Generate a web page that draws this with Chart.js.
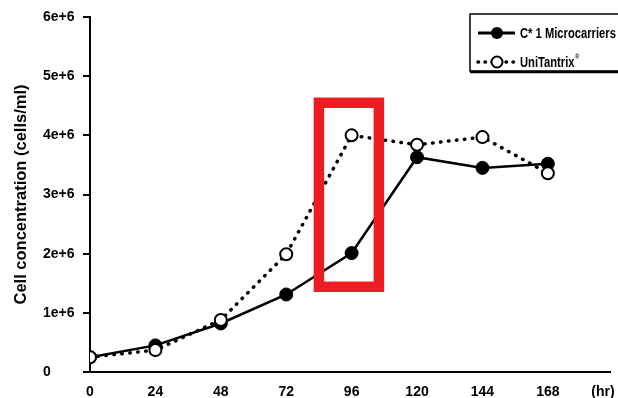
<!DOCTYPE html>
<html>
<head>
<meta charset="utf-8">
<script src="https://cdn.jsdelivr.net/npm/chart.js@4.4.1/dist/chart.umd.min.js"></script>
<style>
  html, body { margin: 0; padding: 0; background: #fff; }
  canvas { display: block; }
</style>
</head>
<body>
<canvas id="myChart" width="618" height="398"></canvas>
<script>
const hours = [0, 24, 48, 72, 96, 120, 144, 168];
const microcarriers = [0.25e6, 0.45e6, 0.82e6, 1.31e6, 2.01e6, 3.63e6, 3.45e6, 3.52e6]; // filled circles
const uniTantrix = [0.25e6, 0.37e6, 0.88e6, 1.99e6, 4.0e6, 3.84e6, 3.97e6, 3.36e6];    // open circles
const yTickValues = [0, 1e6, 2e6, 3e6, 4e6, 5e6, 6e6];
const seriesNames = ['C* 1 Microcarriers', 'UniTantrix'];

// red box drawn around the 96 hr readings, in data units
const highlight = { x0: 84, x1: 106, y0: 1.44e6, y1: 4.55e6 };

const fontFamily = '"Liberation Sans", Arial, sans-serif';

const toPoints = (vals) => hours.map((h, i) => ({ x: h, y: vals[i] }));

const highlightBox = {
  id: 'highlightBox',
  afterDatasetsDraw(chart) {
    const { ctx, scales: { x, y } } = chart;
    const left = x.getPixelForValue(highlight.x0);
    const right = x.getPixelForValue(highlight.x1);
    const top = y.getPixelForValue(highlight.y1);
    const bottom = y.getPixelForValue(highlight.y0);
    ctx.save();
    ctx.strokeStyle = '#ED1C24';
    ctx.lineWidth = 10.5;
    ctx.strokeRect(left, top, right - left, bottom - top);
    ctx.restore();
  }
};

// "(hr)" unit sits on the tick-label row, right of the last tick
const unitLabel = {
  id: 'unitLabel',
  afterDraw(chart) {
    const { ctx, scales: { x } } = chart;
    ctx.save();
    ctx.font = 'bold 14px ' + fontFamily;
    ctx.fillStyle = '#000';
    ctx.textAlign = 'center';
    ctx.textBaseline = 'middle';
    ctx.fillText('(hr)', 603, x.top + 20);
    ctx.restore();
  }
};

const boxLegend = {
  id: 'boxLegend',
  afterDraw(chart) {
    const ctx = chart.ctx;
    const bx = 470, by = 14, bw = 160, bh = 57;
    ctx.save();
    ctx.fillStyle = '#fff';
    ctx.fillRect(bx, by, bw, bh);
    ctx.strokeStyle = '#000';
    ctx.lineWidth = 1.5;
    ctx.strokeRect(bx, by, bw, bh);
    ctx.lineWidth = 2.5;
    ctx.beginPath();
    ctx.moveTo(bx, by + bh + 1);
    ctx.lineTo(bx + bw, by + bh + 1);
    ctx.stroke();

    const sx0 = 478, sx1 = 515, cx = 497;
    // row 1: solid line + filled circle
    let ry = 33;
    ctx.lineWidth = 3;
    ctx.beginPath();
    ctx.moveTo(sx0, ry);
    ctx.lineTo(sx1, ry);
    ctx.stroke();
    ctx.fillStyle = '#000';
    ctx.beginPath();
    ctx.arc(cx, ry, 6, 0, Math.PI * 2);
    ctx.fill();

    // row 2: dotted line + open circle
    ry = 62;
    ctx.lineWidth = 3.5;
    ctx.lineCap = 'round';
    ctx.setLineDash([0.5, 6.5]);
    ctx.beginPath();
    ctx.moveTo(sx0, ry);
    ctx.lineTo(sx1, ry);
    ctx.stroke();
    ctx.setLineDash([]);
    ctx.fillStyle = '#fff';
    ctx.lineWidth = 2;
    ctx.beginPath();
    ctx.arc(cx, ry, 5.5, 0, Math.PI * 2);
    ctx.fill();
    ctx.stroke();

    // condensed bold text: squeeze the sans font horizontally
    ctx.fillStyle = '#000';
    ctx.textAlign = 'left';
    ctx.textBaseline = 'middle';
    ctx.translate(520, 0);
    ctx.scale(0.8, 1);
    ctx.font = 'bold 14px ' + fontFamily;
    ctx.fillText(seriesNames[0], 0, 34);
    ctx.fillText(seriesNames[1], 0, 63);
    const w = ctx.measureText(seriesNames[1]).width;
    ctx.font = 'bold 7px ' + fontFamily;
    ctx.fillText('\u00AE', w + 1, 57);
    ctx.restore();
  }
};

new Chart('myChart', {
  type: 'line',
  data: {
    datasets: [
      {
        label: seriesNames[0],
        data: toPoints(microcarriers),
        borderColor: '#000',
        borderWidth: 2.5,
        pointRadius: 6.5,
        pointBackgroundColor: '#000',
        pointBorderColor: '#000',
        pointBorderWidth: 1,
        tension: 0,
        order: 1
      },
      {
        label: seriesNames[1],
        data: toPoints(uniTantrix),
        borderColor: '#000',
        borderWidth: 3.5,
        borderDash: [0.5, 7.5],
        borderCapStyle: 'round',
        pointRadius: 6,
        pointBackgroundColor: '#fff',
        pointBorderColor: '#000',
        pointBorderWidth: 2,
        tension: 0,
        order: 0
      }
    ]
  },
  options: {
    responsive: false,
    animation: false,
    layout: { padding: { top: 17, left: 43, right: 0, bottom: 0 } },
    plugins: {
      legend: { display: false },
      tooltip: { enabled: false }
    },
    scales: {
      x: {
        type: 'linear',
        min: 0,
        max: 190.8,
        afterBuildTicks: (scale) => {
          scale.ticks = hours.map(h => ({ value: h }));
        },
        afterFit: (scale) => { scale.height = 26; },
        grid: { display: false, drawTicks: false },
        border: { color: '#000', width: 2 },
        ticks: {
          color: '#000',
          font: { family: fontFamily, size: 14, weight: 'bold' },
          padding: 12,
          maxRotation: 0,
          autoSkip: false
        }
      },
      y: {
        min: 0,
        max: 6e6,
        afterBuildTicks: (scale) => {
          scale.ticks = yTickValues.map(v => ({ value: v }));
        },
        afterFit: (scale) => { scale.width = 47; },
        grid: { drawOnChartArea: false, color: '#000', lineWidth: 2, tickLength: 7 },
        border: { color: '#000', width: 2 },
        ticks: {
          color: '#000',
          font: { family: fontFamily, size: 14, weight: 'bold' },
          crossAlign: 'far',
          callback: (v) => v === 0 ? '0' : (v / 1e6) + 'e+6'
        },
        title: {
          display: true,
          text: 'Cell concentration (cells/ml)',
          color: '#000',
          font: { family: fontFamily, size: 16.5, weight: 'bold' },
          padding: { top: -31, bottom: 0 }
        }
      }
    }
  },
  plugins: [highlightBox, unitLabel, boxLegend]
});
</script>
</body>
</html>
